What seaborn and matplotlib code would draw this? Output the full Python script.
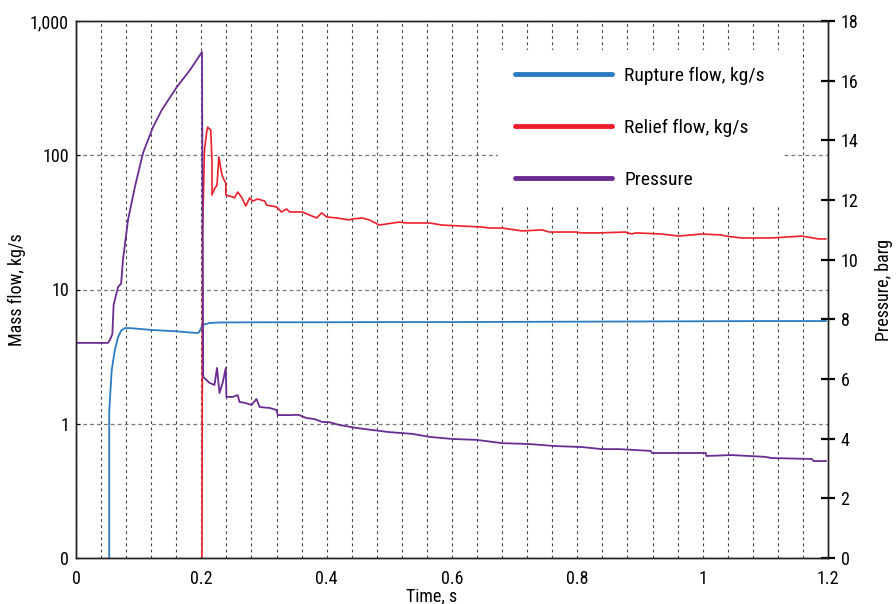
import numpy as np
import pandas as pd
import seaborn as sns
import matplotlib.pyplot as plt
from matplotlib.ticker import FixedLocator, FixedFormatter, NullLocator
from matplotlib.lines import Line2D

# Rupture flow, kg/s (left, log axis)
rupture_t = [0.0, 0.053, 0.053, 0.054, 0.057, 0.062, 0.067, 0.072, 0.078, 0.086, 0.12, 0.16, 0.193,
             0.196, 0.202, 0.213, 0.229, 0.3, 0.4, 0.5, 0.6, 0.7, 0.8, 0.9, 1.0, 1.1, 1.197]
rupture_v = [0.01, 0.01, 1.2, 1.50, 2.51, 3.54, 4.4, 4.95, 5.16, 5.16, 5.0, 4.88, 4.74,
             4.78, 5.44, 5.63, 5.68, 5.7, 5.7, 5.72, 5.72, 5.74, 5.76, 5.78, 5.8, 5.82, 5.82]

# Relief flow, kg/s (left, log axis)
relief_t = [0.0, 0.2006, 0.202, 0.205, 0.209, 0.210, 0.215, 0.217, 0.217, 0.220, 0.225, 0.228,
            0.232, 0.234, 0.239, 0.239, 0.250, 0.253, 0.258, 0.264, 0.271, 0.277, 0.282, 0.290,
            0.301, 0.304, 0.320, 0.328, 0.336, 0.341, 0.361, 0.384, 0.392, 0.400, 0.416, 0.436,
            0.441, 0.457, 0.468, 0.484, 0.516, 0.527, 0.564, 0.584, 0.648, 0.659, 0.680, 0.712,
            0.744, 0.755, 0.798, 0.807, 0.834, 0.877, 0.887, 0.893, 0.935, 0.962, 0.998, 1.030,
            1.037, 1.062, 1.110, 1.158, 1.185, 1.197]
relief_v = [0.01, 0.01, 27.7, 109, 154, 162, 154, 92, 50.6, 55.1, 60.0, 97.1,
            75.0, 68.9, 62.1, 50.6, 48.9, 48.1, 53.2, 48.9, 41.9, 48.1, 45.6, 47.2,
            45.6, 42.6, 41.2, 37.8, 39.8, 37.8, 37.8, 34.1, 37.2, 34.7, 34.1, 33.0,
            33.5, 34.1, 33.0, 30.2, 31.8, 31.3, 31.3, 30.2, 29.2, 28.7, 28.7, 27.3,
            27.8, 26.8, 26.8, 26.4, 26.4, 26.8, 25.9, 26.4, 25.9, 25.0, 25.9, 25.5,
            25.0, 24.2, 24.2, 25.0, 23.8, 23.8]

# Pressure, barg (right axis)
pressure_t = [0.0, 0.051, 0.054, 0.058, 0.060, 0.067, 0.072, 0.075, 0.083, 0.094, 0.107,
              0.123, 0.137, 0.161, 0.182, 0.201, 0.203, 0.213, 0.221, 0.225, 0.229, 0.234,
              0.239, 0.240, 0.250, 0.258, 0.261, 0.270, 0.280, 0.288, 0.293, 0.309, 0.320,
              0.322, 0.341, 0.355, 0.368, 0.380, 0.393, 0.405, 0.420, 0.447, 0.473, 0.500,
              0.537, 0.564, 0.600, 0.639, 0.680, 0.723, 0.766, 0.807, 0.839, 0.866, 0.917,
              0.919, 0.957, 1.005, 1.006, 1.046, 1.100, 1.110, 1.174, 1.177, 1.197]
pressure_v = [7.21, 7.21, 7.31, 7.5, 8.48, 9.08, 9.2, 10.0, 11.33, 12.44, 13.58,
              14.45, 15.02, 15.79, 16.36, 16.96, 6.07, 5.87, 5.80, 6.37, 5.53, 5.87,
              6.37, 5.40, 5.40, 5.46, 5.23, 5.20, 5.13, 5.33, 5.06, 5.03, 4.96,
              4.79, 4.79, 4.80, 4.69, 4.66, 4.56, 4.55, 4.46, 4.36, 4.29, 4.22,
              4.16, 4.06, 3.99, 3.96, 3.85, 3.82, 3.75, 3.72, 3.65, 3.65, 3.59,
              3.52, 3.52, 3.52, 3.42, 3.45, 3.39, 3.35, 3.32, 3.25, 3.25]

left_ticks = [0.1, 1, 10, 100, 1000]
left_labels = ['0', '1', '10', '100', '1,000']
right_ticks = list(range(0, 19, 2))
x_ticks = [0, 0.2, 0.4, 0.6, 0.8, 1, 1.2]
x_labels = ['0', '0.2', '0.4', '0.6', '0.8', '1', '1.2']

blue = '#2b7bc1'
red = '#ee1f2b'
purple = '#6a2c91'

sns.set_style('white')
plt.rcParams['font.family'] = ['Roboto Condensed', 'Liberation Sans Narrow', 'Roboto', 'DejaVu Sans']
plt.rcParams['text.color'] = 'black'
plt.rcParams['axes.labelcolor'] = 'black'
plt.rcParams['xtick.color'] = 'black'
plt.rcParams['ytick.color'] = 'black'

fig = plt.figure(figsize=(8.96, 6.04), dpi=100)
ax = fig.add_axes([76 / 896, 1 - 558 / 604, (828 - 76) / 896, (558 - 21) / 604])
ax2 = ax.twinx()

df_r = pd.DataFrame({'t': rupture_t, 'v': rupture_v})
df_f = pd.DataFrame({'t': relief_t, 'v': relief_v})
df_p = pd.DataFrame({'t': pressure_t, 'v': pressure_v})

sns.lineplot(data=df_r, x='t', y='v', ax=ax, color=blue, lw=1.3, sort=False, estimator=None)
sns.lineplot(data=df_f, x='t', y='v', ax=ax, color=red, lw=1.2, sort=False, estimator=None)
sns.lineplot(data=df_p, x='t', y='v', ax=ax2, color=purple, lw=1.3, sort=False, estimator=None)

ax.set_yscale('log')
ax.set_ylim(0.1, 1000)
ax.set_xlim(0, 1.2)
ax2.set_ylim(0, 18)

ax.yaxis.set_major_locator(FixedLocator(left_ticks))
ax.yaxis.set_major_formatter(FixedFormatter(left_labels))
ax.yaxis.set_minor_locator(NullLocator())
ax.set_xticks(x_ticks)
ax.set_xticklabels(x_labels)
ax.set_xticks(np.arange(0.04, 1.2, 0.04), minor=True)
ax2.set_yticks(right_ticks)

# grids
ax.grid(False)
ax2.grid(False)
ax.xaxis.grid(True, which='both', color='#444444', ls=(0, (2.5, 3)), lw=0.8)
ax.yaxis.grid(True, which='major', color='#777777', ls=(0, (3, 2.5)), lw=0.9)

ax.tick_params(axis='x', which='both', direction='in', length=3, color='black',
               labelsize=13, pad=9)
ax.tick_params(axis='y', which='both', direction='in', length=3, labelsize=13, pad=5)
ax2.tick_params(axis='y', direction='inout', length=10, width=1.6, color='black',
                labelsize=13, pad=4)

for a in (ax, ax2):
    for s in a.spines.values():
        s.set_visible(True)
        s.set_color('#222222')
        s.set_linewidth(1.0)

ax.set_xlabel('Time, s', fontsize=13)
ax.xaxis.set_label_coords(0.473, -0.054)
ax.set_ylabel('Mass flow, kg/s', fontsize=13)
ax.yaxis.set_label_coords(-0.066, 0.5)
ax2.set_ylabel('Pressure, barg', fontsize=13)
ax2.yaxis.set_label_coords(1.062, 0.5)

handles = [Line2D([], [], color=blue, lw=3.5),
           Line2D([], [], color=red, lw=3.5),
           Line2D([], [], color=purple, lw=3.5)]
labels = ['Rupture flow, kg/s', 'Relief flow, kg/s', 'Pressure']
leg = ax2.legend(handles, labels, loc='upper left',
                 bbox_to_anchor=(498 / 896, 1 - 50 / 604), bbox_transform=fig.transFigure,
                 frameon=True, fancybox=False, framealpha=1, facecolor='white',
                 edgecolor='none', fontsize=14, handlelength=5.0, handletextpad=0.65,
                 labelspacing=1.75, borderpad=0.85, borderaxespad=0)
leg.get_frame().set_linewidth(0)

fig.savefig('out.png', dpi=100)
